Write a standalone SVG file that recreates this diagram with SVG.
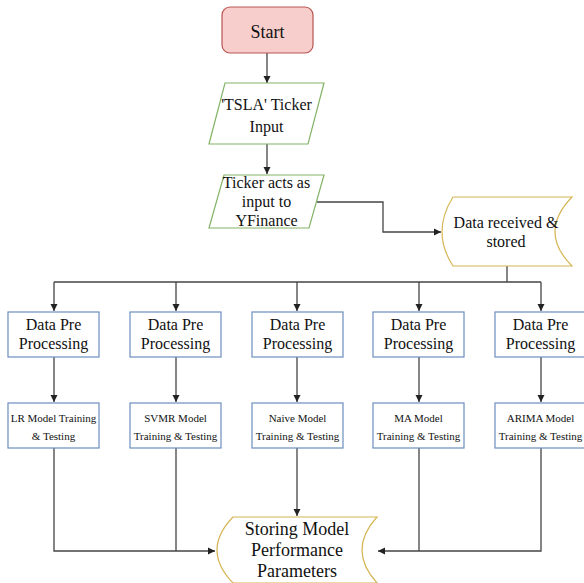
<svg xmlns="http://www.w3.org/2000/svg" width="584" height="583" viewBox="0 0 584 583">
<defs>
<marker id="arr" markerWidth="8" markerHeight="8" refX="7" refY="4" orient="auto" markerUnits="userSpaceOnUse">
<path d="M0,0.5 L7,4 L0,7.5 Z" fill="#222"/>
</marker>
<style>
text{fill:#111;text-anchor:middle}
.t18{font-size:18px}.t16{font-size:16px}.t11{font-size:11px}
.blue{fill:#fff;stroke:#6c8ebf;stroke-width:1.2}
.green{fill:#fff;stroke:#82b366;stroke-width:1.2}
.gold{fill:#fff;stroke:#d6b656;stroke-width:1.2}
.c{fill:none;stroke:#444;stroke-width:1.3}
.ca{fill:none;stroke:#444;stroke-width:1.3;marker-end:url(#arr)}
</style>
</defs>
<rect width="584" height="583" fill="#fff"/>
<g id="connectors">
<path class="ca" d="M267,53 V83"/>
<path class="ca" d="M267,144 V174"/>
<path class="ca" d="M317,202 H383 V232 H441"/>
<path class="c" d="M507,266 V282"/>
<path class="c" d="M54,282 H541"/>
<path class="ca" d="M54,282 V311"/>
<path class="ca" d="M176,282 V311"/>
<path class="ca" d="M297,282 V311"/>
<path class="ca" d="M419,282 V311"/>
<path class="ca" d="M541,282 V311"/>
<path class="ca" d="M54,357 V402"/>
<path class="ca" d="M176,357 V402"/>
<path class="ca" d="M297,357 V402"/>
<path class="ca" d="M419,357 V402"/>
<path class="ca" d="M541,357 V402"/>
<path class="ca" d="M54,448 V551 H215"/>
<path class="c" d="M176,448 V551"/>
<path class="ca" d="M297,448 V516"/>
<path class="ca" d="M541,448 V551 H378"/>
<path class="c" d="M419,448 V551"/>
</g>
<g font-family="'Liberation Serif', 'Times New Roman', serif">
<g id="start">
<rect x="222" y="7" width="91" height="46" rx="8" fill="#f8cecc" stroke="#b85450" stroke-width="1.2"/>
<text class="t18" x="267.5" y="38">Start</text>
</g>
<g id="tsla-input">
<path class="green" d="M225,83 H324 L308,144 H209 Z"/>
<text class="t16" x="266.5" y="110">'TSLA' Ticker</text>
<text class="t16" x="266.5" y="132">Input</text>
</g>
<g id="yfinance-input">
<path class="green" d="M224,175 H324 L309,228 H209 Z"/>
<text class="t16" x="266.5" y="188">Ticker acts as</text>
<text class="t16" x="266.5" y="207">input to</text>
<text class="t16" x="266.5" y="226">YFinance</text>
</g>
<g id="data-stored">
<path class="gold" d="M453,197 H572 Q538,232 572,266 H453 Q431,232 453,197 Z"/>
<text class="t16" x="506" y="228">Data received &amp;</text>
<text class="t16" x="506" y="247">stored</text>
</g>
<g id="pre1"><rect class="blue" x="8" y="312" width="91" height="45"/><text class="t16" x="53.5" y="330">Data Pre</text><text class="t16" x="53.5" y="349">Processing</text></g>
<g id="pre2"><rect class="blue" x="130" y="312" width="91" height="45"/><text class="t16" x="175.5" y="330">Data Pre</text><text class="t16" x="175.5" y="349">Processing</text></g>
<g id="pre3"><rect class="blue" x="252" y="312" width="91" height="45"/><text class="t16" x="297.5" y="330">Data Pre</text><text class="t16" x="297.5" y="349">Processing</text></g>
<g id="pre4"><rect class="blue" x="373" y="312" width="91" height="45"/><text class="t16" x="418.5" y="330">Data Pre</text><text class="t16" x="418.5" y="349">Processing</text></g>
<g id="pre5"><rect class="blue" x="495" y="312" width="91" height="45"/><text class="t16" x="540.5" y="330">Data Pre</text><text class="t16" x="540.5" y="349">Processing</text></g>
<g id="lr"><rect class="blue" x="8" y="403" width="91" height="45"/><text class="t11" x="53.5" y="422">LR Model Training</text><text class="t11" x="53.5" y="440">&amp; Testing</text></g>
<g id="svmr"><rect class="blue" x="130" y="403" width="91" height="45"/><text class="t11" x="175.5" y="422">SVMR Model</text><text class="t11" x="175.5" y="440">Training &amp; Testing</text></g>
<g id="naive"><rect class="blue" x="252" y="403" width="91" height="45"/><text class="t11" x="297.5" y="422">Naive Model</text><text class="t11" x="297.5" y="440">Training &amp; Testing</text></g>
<g id="ma"><rect class="blue" x="373" y="403" width="91" height="45"/><text class="t11" x="418.5" y="422">MA Model</text><text class="t11" x="418.5" y="440">Training &amp; Testing</text></g>
<g id="arima"><rect class="blue" x="495" y="403" width="91" height="45"/><text class="t11" x="540.5" y="422">ARIMA Model</text><text class="t11" x="540.5" y="440">Training &amp; Testing</text></g>
<g id="storing">
<path class="gold" d="M233,517 H377 Q347,550 377,583 H233 Q201,550 233,517 Z"/>
<text class="t18" x="297" y="535">Storing Model</text>
<text class="t18" x="297" y="556">Performance</text>
<text class="t18" x="297" y="577">Parameters</text>
</g>
</g>
</svg>
